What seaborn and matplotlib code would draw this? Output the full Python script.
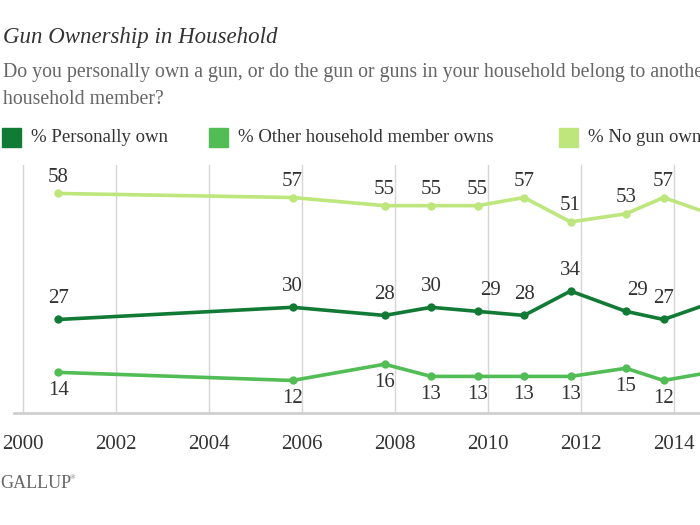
import matplotlib
matplotlib.use("Agg")
import matplotlib.pyplot as plt
import seaborn as sns
import pandas as pd
from matplotlib.patches import Rectangle

# survey dates (fractional years) and values
years = [2000.75, 2005.79, 2007.77, 2008.77, 2009.77, 2010.77, 2011.77, 2012.96, 2013.77, 2014.77]
personally_own = [27, 30, 28, 30, 29, 28, 34, 29, 27, 31]
other_member = [14, 12, 16, 13, 13, 13, 13, 15, 12, 14]
no_gun = [58, 57, 55, 55, 55, 57, 51, 53, 57, 53]

series_names = ["% Personally own", "% Other household member owns", "% No gun owner in household"]
colors = ["#117a35", "#52bd55", "#bde67c"]
tick_years = [2000, 2002, 2004, 2006, 2008, 2010, 2012, 2014, 2016]

df = pd.DataFrame({
    "year": years * 3,
    "value": personally_own + other_member + no_gun,
    "series": [series_names[0]] * len(years) + [series_names[1]] * len(years) + [series_names[2]] * len(years),
})

sns.set_style("white")
plt.rcParams["font.family"] = ["Liberation Serif", "DejaVu Serif"]

fig = plt.figure(figsize=(7, 5.25), dpi=100)
# axes runs past the right edge, the reference is a crop of a wider chart
ax = fig.add_axes([14 / 700, (525 - 413) / 525, 16.2 * 46.5 / 700, 248 / 525])

sns.lineplot(data=df, x="year", y="value", hue="series", palette=colors,
             hue_order=series_names, marker="o", markersize=6, markeredgewidth=0,
             linewidth=2.6, legend=False, ax=ax)

ax.set_xlim(1999.8, 2016)
ax.set_ylim(4, 65)
ax.set_xticks(tick_years)
ax.set_xticklabels([str(t) for t in tick_years])
ax.set_yticks([])
ax.set_xlabel("")
ax.set_ylabel("")
ax.grid(axis="x", color="#d6d6d6", linewidth=1)
for s in ["top", "left", "right"]:
    ax.spines[s].set_visible(False)
ax.spines["bottom"].set_color("#cfcfcf")
ax.spines["bottom"].set_linewidth(2)
ax.tick_params(axis="x", length=0, pad=16, labelsize=15, labelcolor="#333333")

# data labels (last point lies outside the visible crop, so it gets none)
n = len(years) - 1
dx_personal = [0, 0, 0, 0, 9, 0, 0, 8, 0]
for x, v, d in zip(years[:n], personally_own[:n], dx_personal):
    ax.annotate(str(v), (x, v), xytext=(d, 8), textcoords="offset points",
                ha="center", va="bottom", fontsize=15, color="#333333")
for x, v in zip(years[:n], no_gun[:n]):
    ax.annotate(str(v), (x, v), xytext=(0, 5), textcoords="offset points",
                ha="center", va="bottom", fontsize=15, color="#333333")
for x, v in zip(years[:n], other_member[:n]):
    ax.annotate(str(v), (x, v), xytext=(0, -6), textcoords="offset points",
                ha="center", va="top", fontsize=15, color="#333333")

# header
fig.text(3 / 700, 1 - 43 / 525, "Gun Ownership in Household", fontsize=16.5, style="italic",
         color="#333333", va="baseline", ha="left")
fig.text(3 / 700, 1 - 77 / 525,
         "Do you personally own a gun, or do the gun or guns in your household belong to another",
         fontsize=14.3, color="#666666", va="baseline", ha="left")
fig.text(3 / 700, 1 - 104 / 525, "household member?", fontsize=14.3, color="#666666",
         va="baseline", ha="left")

# legend
leg_x = [2, 209, 559]
for lx, name, c in zip(leg_x, series_names, colors):
    fig.patches.append(Rectangle((lx / 700, 1 - 147 / 525), 19 / 700, 19 / 525,
                                 transform=fig.transFigure, color=c))
    fig.text((lx + 29) / 700, 1 - 137 / 525, name, fontsize=13.5, color="#333333",
             va="center", ha="left")

fig.text(0, 1 - 483 / 525, "GALLUP", fontsize=13, color="#666666", va="center", ha="left")
fig.text(70 / 700, 1 - 478 / 525, "\u00ae", fontsize=5, color="#666666", va="center", ha="left")

fig.savefig("out.png", dpi=100)
